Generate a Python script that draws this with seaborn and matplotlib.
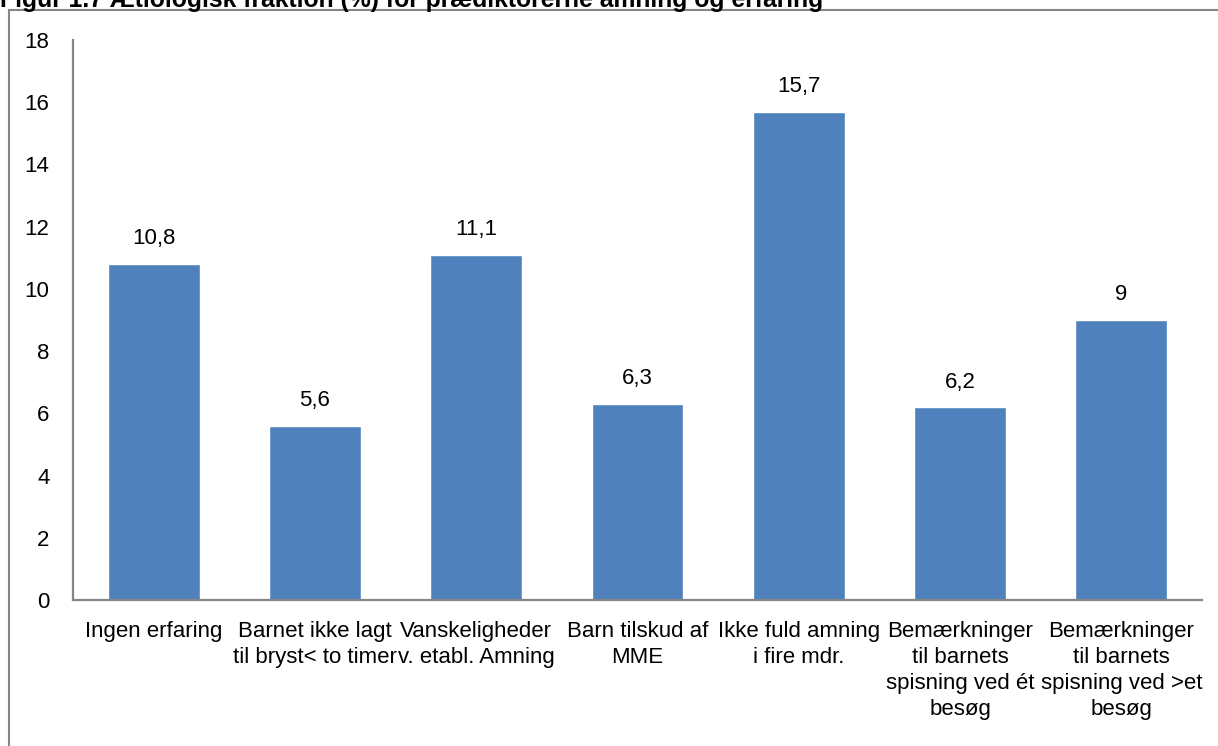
import matplotlib
matplotlib.use("Agg")
import matplotlib.pyplot as plt
from matplotlib.lines import Line2D
import seaborn as sns
import pandas as pd

categories = [
    "Ingen erfaring",
    "Barnet ikke lagt\ntil bryst< to timer",
    "Vanskeligheder\nv. etabl. Amning",
    "Barn tilskud af\nMME",
    "Ikke fuld amning\ni fire mdr.",
    "Bemærkninger\ntil barnets\nspisning ved ét\nbesøg",
    "Bemærkninger\ntil barnets\nspisning ved >et\nbesøg",
]
values = [10.8, 5.6, 11.1, 6.3, 15.7, 6.2, 9.0]
value_labels = ["10,8", "5,6", "11,1", "6,3", "15,7", "6,2", "9"]
y_ticks = [0, 2, 4, 6, 8, 10, 12, 14, 16, 18]
title = "Figur 1.7 Ætiologisk fraktion (%) for prædiktorerne amning og erfaring"

sns.set_theme(style="white")
plt.rcParams["font.family"] = ["Liberation Sans", "DejaVu Sans"]

FS = 16

df = pd.DataFrame({"kategori": categories, "værdi": values})

fig = plt.figure(figsize=(12.18, 7.46), dpi=100)
ax = fig.add_axes([73 / 1218, 1 - 600 / 746, (1202 - 73) / 1218, (600 - 40) / 746])

sns.barplot(data=df, x="kategori", y="værdi", color="#4F81BD", saturation=1,
            width=0.57, ax=ax)

ax.set_xlim(-0.5, len(categories) - 0.5)
ax.set_ylim(0, 18)
ax.set_yticks(y_ticks)
ax.set_yticklabels([str(t) for t in y_ticks], fontsize=FS, color="black")
ax.set_xticks(range(len(categories)))
ax.set_xticklabels(categories, fontsize=FS, color="black", linespacing=1.32)
ax.tick_params(axis="y", length=0, pad=17)
ax.tick_params(axis="x", length=0, pad=15)
ax.set_xlabel("")
ax.set_ylabel("")

for side in ("top", "right"):
    ax.spines[side].set_visible(False)
for side in ("left", "bottom"):
    ax.spines[side].set_color("#868686")
    ax.spines[side].set_linewidth(1.6)

for patch, lab in zip(ax.patches, value_labels):
    ax.annotate(lab, (patch.get_x() + patch.get_width() / 2, patch.get_height()),
                xytext=(0, 10.5), textcoords="offset points",
                ha="center", va="bottom", fontsize=FS, color="black")

# outer chart frame (left and top edges)
fig.add_artist(Line2D([9 / 1218, 9 / 1218], [0, 1 - 10 / 746],
                      transform=fig.transFigure, color="#868686", lw=1.5))
fig.add_artist(Line2D([9 / 1218, 1], [1 - 10 / 746, 1 - 10 / 746],
                      transform=fig.transFigure, color="#868686", lw=1.5))

fig.text(0 / 1218, 1 - 7 / 746, title, fontsize=17.8, fontweight="bold",
         ha="left", va="baseline", color="black")

fig.savefig("out.png", dpi=100)
